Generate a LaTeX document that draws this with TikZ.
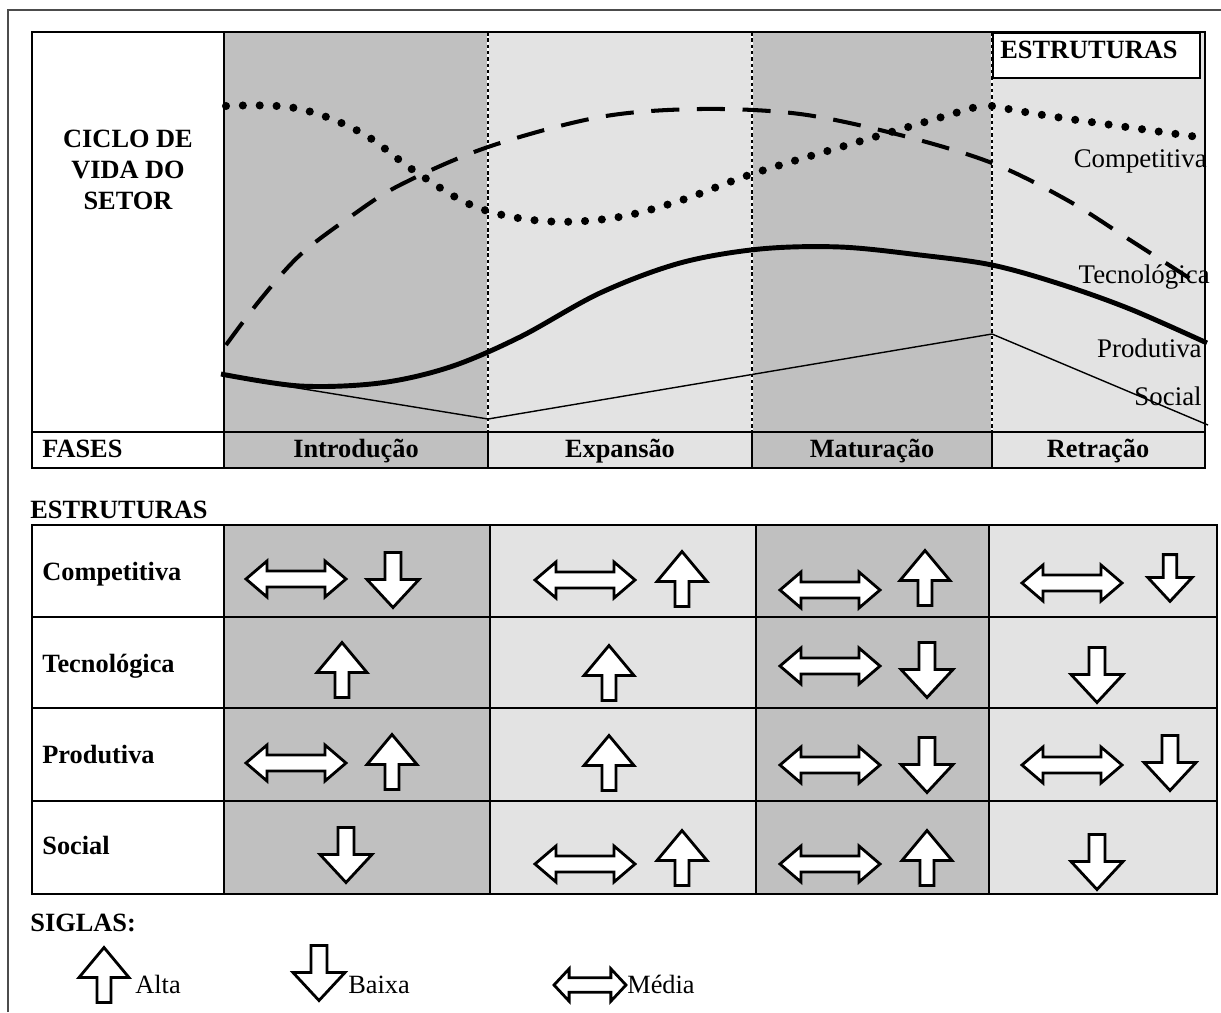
\documentclass[tikz,border=0pt]{standalone}
\usepackage{fontspec}
\setmainfont{Liberation Serif}
\definecolor{faseescura}{HTML}{C0C0C0}
\definecolor{faseclara}{HTML}{E3E3E3}
\tikzset{
  grade/.style={line width=1.2pt},
  divisa/.style={line width=0.9pt, dash pattern=on 2pt off 1.6pt},
  negrito/.style={font=\fontsize{15}{17.5}\selectfont\bfseries, inner sep=0pt},
  rotulo/.style={font=\fontsize{15.3}{18}\selectfont, inner sep=0pt},
  sigla/.style={font=\fontsize{15}{17}\selectfont, inner sep=0pt, anchor=base west},
  seta/.style={draw, fill=white, line width=1.6pt, line join=miter},
  alta/.pic={\path[seta] (0,-27.5) -- (25,2.5) -- (7,2.5) -- (7,27.5) -- (-7,27.5) -- (-7,2.5) -- (-25,2.5) -- cycle;},
  baixa/.pic={\path[seta] (0,27.5) -- (26,-0.5) -- (8,-0.5) -- (8,-27.5) -- (-8,-27.5) -- (-8,-0.5) -- (-26,-0.5) -- cycle;},
  media/.pic={\path[seta] (-50,0) -- (-29,-18) -- (-29,-8) -- (29,-8) -- (29,-18) -- (50,0) -- (29,18) -- (29,8) -- (-29,8) -- (-29,18) -- cycle;}
}

\begin{document}
\begin{tikzpicture}[x=0.02cm, y=-0.02cm]
    \useasboundingbox (0,0) rectangle (1221,1012);
    \draw[line width=1.4pt, black!70] (8,1012) -- (8,10) -- (1221,10);

    % ciclo de vida do setor
    \fill[faseescura] (224,32) rectangle (488,468);
    \fill[faseclara] (488,32) rectangle (752,468);
    \fill[faseescura] (752,32) rectangle (992,468);
    \fill[faseclara] (992,32) rectangle (1205,468);
        \draw[white, line width=0.9pt] (488,32) -- (488,432);
        \draw[divisa] (488,32) -- (488,432);
        \draw[white, line width=0.9pt] (752,32) -- (752,432);
        \draw[divisa] (752,32) -- (752,432);
        \draw[white, line width=0.9pt] (992,32) -- (992,432);
        \draw[divisa] (992,32) -- (992,432);

        \draw[line width=0.8pt] (224,376) -- (488,419) -- (992,334) -- (1208,425);
        \draw[line width=2.8pt] plot[smooth, tension=0.55] coordinates {(221,374) (300,386) (380,383) (450,367) (520,337) (600,293) (680,263) (760,249) (840,247) (920,255) (992,265) (1060,284) (1130,309) (1207,343)};
        \draw[line width=2.3pt, dash pattern=on 16pt off 10pt] plot[smooth, tension=0.55] coordinates {(226,345) (260,300) (300,255) (350,217) (400,185) (488,147) (600,117) (700,109) (800,114) (900,135) (992,163) (1067,200) (1130,240) (1200,285)};
        \draw[line width=4.6pt, line cap=round, dash pattern=on 0pt off 9.6pt] plot[smooth, tension=0.6] coordinates {(226,106) (295,108) (360,132) (416,172) (476,207) (543,221) (613,218) (679,201) (752,174) (851,144) (952,114) (986,104)};
        \draw[line width=4.6pt, line cap=round, dash pattern=on 0pt off 9.6pt] plot[smooth, tension=0.6] coordinates {(992,106) (1043,115) (1112,125) (1198,137)};

    \draw[grade] (32,32) rectangle (1205,468);
    \draw[grade] (32,432) -- (1205,432);
    \draw[grade] (224,32) -- (224,468);
    \draw[grade] (488,432) -- (488,468);
    \draw[grade] (752,432) -- (752,468);
    \draw[grade] (992,432) -- (992,468);
    \draw[grade, fill=white] (993,33) rectangle (1200,78);

        \node[negrito, anchor=base west] (estruturastopo) at (1000,58) {ESTRUTURAS};
        \node[negrito, align=center] (ciclo) at (128,170) {CICLO DE\\VIDA DO\\SETOR};
        \node[rotulo, anchor=base east] (lcompetitiva) at (1207,167) {Competitiva};
        \node[rotulo, anchor=base east] (ltecnologica) at (1210,283) {Tecnológica};
        \node[rotulo, anchor=base east] (lprodutiva) at (1202,357) {Produtiva};
        \node[rotulo, anchor=base east] (lsocial) at (1202,405) {Social};

        \node[negrito, anchor=base west] (fases) at (42,457) {FASES};
        \node[negrito, anchor=base] (introducao) at (356,457) {Introdução};
        \node[negrito, anchor=base] (expansao) at (620,457) {Expansão};
        \node[negrito, anchor=base] (maturacao) at (872,457) {Maturação};
        \node[negrito, anchor=base] (retracao) at (1098,457) {Retração};

    % estruturas
    \node[negrito, anchor=base west] (estruturas) at (30,518) {ESTRUTURAS};
    \fill[faseescura] (224,525) rectangle (490,894);
    \fill[faseclara] (490,525) rectangle (756,894);
    \fill[faseescura] (756,525) rectangle (989,894);
    \fill[faseclara] (989,525) rectangle (1217,894);
    \draw[grade] (32,525) rectangle (1217,894);
        \draw[grade] (32,617) -- (1217,617);
        \draw[grade] (32,708) -- (1217,708);
        \draw[grade] (32,801) -- (1217,801);
        \draw[grade] (224,525) -- (224,894);
        \draw[grade] (490,525) -- (490,894);
        \draw[grade] (756,525) -- (756,894);
        \draw[grade] (989,525) -- (989,894);

        \node[negrito, anchor=base west] (competitiva) at (42,580) {Competitiva};
        \node[negrito, anchor=base west] (tecnologica) at (42,672) {Tecnológica};
        \node[negrito, anchor=base west] (produtiva) at (42,763) {Produtiva};
        \node[negrito, anchor=base west] (social) at (42,854) {Social};

        \pic at (296,579) {media};
        \pic at (393,580) {baixa};
        \pic at (585,580) {media};
        \pic at (682,579) {alta};
        \pic at (830,590) {media};
        \pic at (925,578) {alta};
        \pic at (1072,583) {media};
        \pic[scale=0.85] at (1170,578) {baixa};

        \pic at (342,670) {alta};
        \pic at (609,673) {alta};
        \pic at (830,666) {media};
        \pic at (927,670) {baixa};
        \pic at (1097,675) {baixa};

        \pic at (296,763) {media};
        \pic at (392,762) {alta};
        \pic at (609,763) {alta};
        \pic at (830,765) {media};
        \pic at (927,765) {baixa};
        \pic at (1072,765) {media};
        \pic at (1170,763) {baixa};

        \pic at (346,855) {baixa};
        \pic at (585,864) {media};
        \pic at (682,858) {alta};
        \pic at (830,864) {media};
        \pic at (927,858) {alta};
        \pic at (1097,862) {baixa};

    % siglas
    \node[negrito, anchor=base west] (siglas) at (30,931) {SIGLAS:};
        \pic at (104,975) {alta};
        \node[sigla] (alta) at (135,993) {Alta};
        \pic at (319,973) {baixa};
        \node[sigla] (baixa) at (348,993) {Baixa};
        \pic[xscale=0.72, yscale=0.9] at (590,985) {media};
        \node[sigla] (media) at (627,993) {Média};
\end{tikzpicture}
\end{document}
